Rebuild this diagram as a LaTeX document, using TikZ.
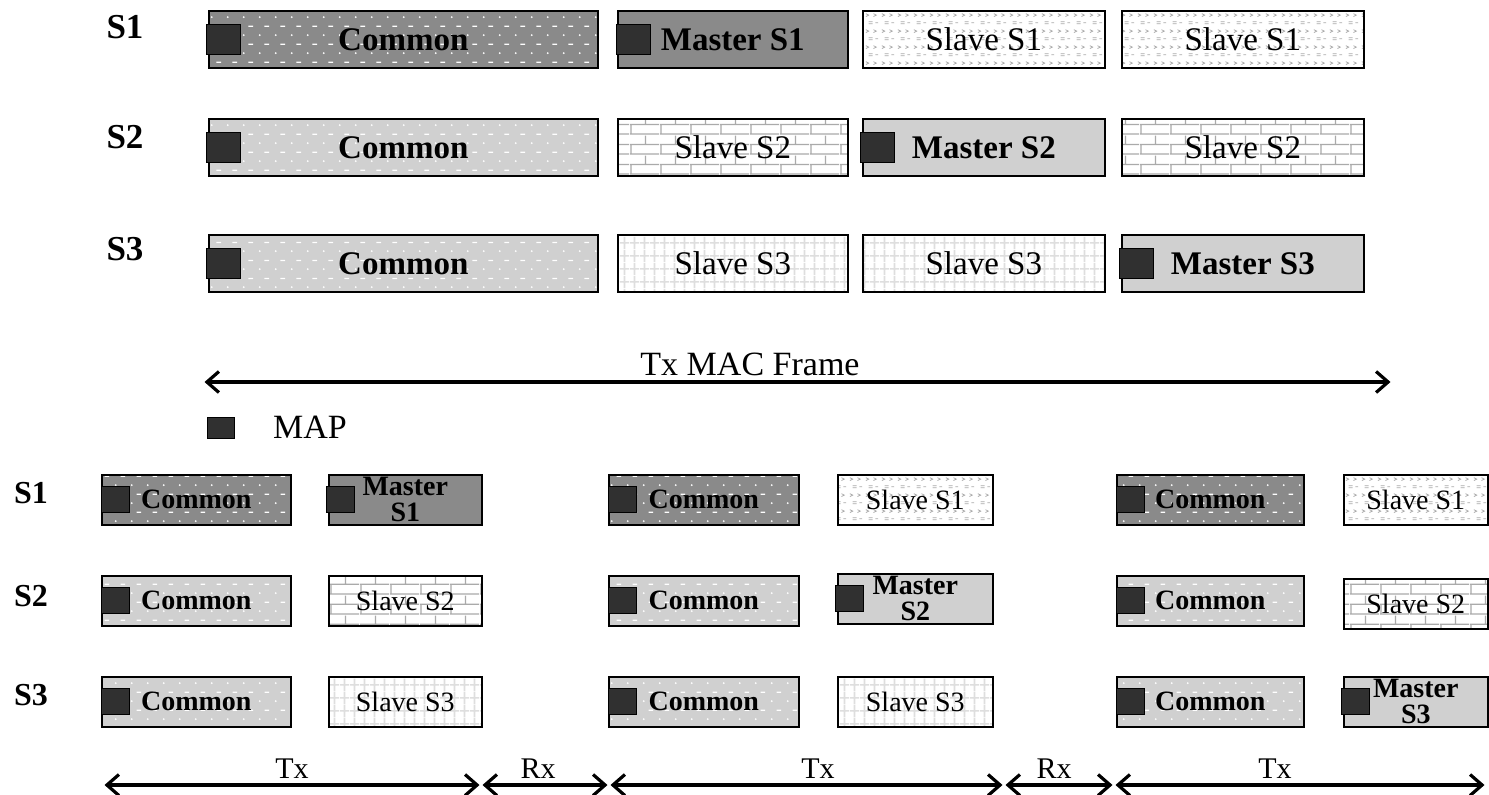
\documentclass[tikz,border=0pt]{standalone}
\usepackage{fontspec}
\setmainfont{Liberation Serif}
\usetikzlibrary{arrows.meta,patterns}

\definecolor{dkfill}{RGB}{138,138,138}
\definecolor{ltfill}{RGB}{208,208,208}
\definecolor{mapfill}{RGB}{48,48,48}
\definecolor{patline}{RGB}{170,170,170}
\definecolor{gridline}{RGB}{222,222,222}

% dotted fill of the Common slots
\pgfdeclarepatternformonly{commondots}{\pgfqpoint{0pt}{0pt}}{\pgfqpoint{16pt}{18pt}}{\pgfqpoint{16pt}{18pt}}{
  \pgfpathcircle{\pgfqpoint{4pt}{4pt}}{1.1pt}
  \pgfpathrectangle{\pgfqpoint{9pt}{12.5pt}}{\pgfqpoint{5pt}{1.3pt}}
  \pgfusepath{fill}
}
% small marks of the Slave S1 slots
\pgfdeclarepatternformonly{slavemarks}{\pgfqpoint{0pt}{0pt}}{\pgfqpoint{16pt}{16pt}}{\pgfqpoint{16pt}{16pt}}{
  \pgfsetlinewidth{0.8pt}
  \pgfpathmoveto{\pgfqpoint{2pt}{14pt}}\pgfpathlineto{\pgfqpoint{5pt}{12.5pt}}\pgfpathlineto{\pgfqpoint{2pt}{11pt}}
  \pgfpathmoveto{\pgfqpoint{10pt}{14pt}}\pgfpathlineto{\pgfqpoint{13pt}{12.5pt}}\pgfpathlineto{\pgfqpoint{10pt}{11pt}}
  \pgfpathmoveto{\pgfqpoint{5pt}{5.5pt}}\pgfpathlineto{\pgfqpoint{9pt}{5.5pt}}
  \pgfpathmoveto{\pgfqpoint{5pt}{3.5pt}}\pgfpathlineto{\pgfqpoint{9pt}{3.5pt}}
  \pgfpathmoveto{\pgfqpoint{12pt}{4.5pt}}\pgfpathlineto{\pgfqpoint{15pt}{4.5pt}}
  \pgfusepath{stroke}
}
% bricks of the Slave S2 slots
\pgfdeclarepatternformonly{slavebricks}{\pgfqpoint{0pt}{0pt}}{\pgfqpoint{30pt}{20pt}}{\pgfqpoint{30pt}{20pt}}{
  \pgfsetlinewidth{1.3pt}
  \pgfpathmoveto{\pgfqpoint{0pt}{1pt}}\pgfpathlineto{\pgfqpoint{30pt}{1pt}}
  \pgfpathmoveto{\pgfqpoint{0pt}{11pt}}\pgfpathlineto{\pgfqpoint{30pt}{11pt}}
  \pgfpathmoveto{\pgfqpoint{1pt}{1pt}}\pgfpathlineto{\pgfqpoint{1pt}{11pt}}
  \pgfpathmoveto{\pgfqpoint{16pt}{11pt}}\pgfpathlineto{\pgfqpoint{16pt}{20pt}}
  \pgfusepath{stroke}
}
% grid of the Slave S3 slots
\pgfdeclarepatternformonly{slavegrid}{\pgfqpoint{0pt}{0pt}}{\pgfqpoint{10pt}{13pt}}{\pgfqpoint{10pt}{13pt}}{
  \pgfsetlinewidth{1.8pt}
  \pgfpathmoveto{\pgfqpoint{5pt}{0pt}}\pgfpathlineto{\pgfqpoint{5pt}{13pt}}
  \pgfpathmoveto{\pgfqpoint{0pt}{6.5pt}}\pgfpathlineto{\pgfqpoint{10pt}{6.5pt}}
  \pgfusepath{stroke}
}

\tikzset{
  slot/.style={draw=black, line width=1.6pt, anchor=north west, inner sep=0pt, align=center},
  topslot/.style={slot, minimum height=57pt},
  lowslot/.style={slot, minimum height=50pt},
  bigbold/.style={font=\bfseries\fontsize{33}{36}\selectfont},
  bigreg/.style={font=\fontsize{33}{36}\selectfont},
  smallbold/.style={font=\bfseries\fontsize{28}{26}\selectfont},
  smallreg/.style={font=\fontsize{28}{26}\selectfont},
  dkcommon/.style={preaction={fill=dkfill}, preaction={pattern=commondots, pattern color=white}},
  ltcommon/.style={preaction={fill=ltfill}, preaction={pattern=commondots, pattern color=white}},
  dkmaster/.style={fill=dkfill},
  ltmaster/.style={fill=ltfill},
  slaveone/.style={preaction={fill=white}, preaction={pattern=slavemarks, pattern color=patline}},
  slavetwo/.style={preaction={fill=white}, preaction={pattern=slavebricks, pattern color=patline}},
  slavethree/.style={preaction={fill=white}, preaction={pattern=slavegrid, pattern color=gridline}},
  mapsq/.style={draw=black, line width=1.3pt, fill=mapfill, inner sep=0pt, anchor=west},
  topsq/.style={mapsq, minimum width=34pt, minimum height=30pt},
  lowsq/.style={mapsq, minimum width=28pt, minimum height=26pt},
  rowlab/.style={font=\bfseries\fontsize{35}{36}\selectfont},
  lowlab/.style={font=\bfseries\fontsize{32}{34}\selectfont},
  span/.style={line width=3.2pt, {Straight Barb[length=12pt,width=21pt,line width=3.2pt]}-{Straight Barb[length=12pt,width=21pt,line width=3.2pt]}, shorten <=1.5pt, shorten >=1.5pt}
}

\begin{document}
\begin{tikzpicture}[x=1pt,y=1pt,yscale=-1,xscale=1]
\useasboundingbox (0,0) rectangle (1489,795);

%Row S1 (one Tx MAC frame)
\node[rowlab] (ls1) at (125,27) {S1};
\node[topslot, bigbold, dkcommon, minimum width=389pt] (c1) at (208,10) {Common};
\node[topslot, bigbold, dkmaster, minimum width=230pt] (m1) at (617,10) {Master S1};
\node[topslot, bigreg, slaveone, minimum width=242pt] (v1a) at (862,10) {Slave S1};
\node[topslot, bigreg, slaveone, minimum width=242pt] (v1b) at (1121,10) {Slave S1};
\node[topsq] (qc1) at ([xshift=-2pt]c1.west) {};
\node[topsq] (qm1) at ([xshift=-1pt]m1.west) {};

%Row S2
\node[rowlab] (ls2) at (125,137) {S2};
\node[topslot, bigbold, ltcommon, minimum width=389pt] (c2) at (208,118) {Common};
\node[topslot, bigreg, slavetwo, minimum width=230pt] (v2a) at (617,118) {Slave S2};
\node[topslot, bigbold, ltmaster, minimum width=242pt] (m2) at (862,118) {Master S2};
\node[topslot, bigreg, slavetwo, minimum width=242pt] (v2b) at (1121,118) {Slave S2};
\node[topsq] (qc2) at ([xshift=-2pt]c2.west) {};
\node[topsq] (qm2) at ([xshift=-2pt]m2.west) {};

%Row S3
\node[rowlab] (ls3) at (125,249) {S3};
\node[topslot, bigbold, ltcommon, minimum width=389pt] (c3) at (208,234) {Common};
\node[topslot, bigreg, slavethree, minimum width=230pt] (v3a) at (617,234) {Slave S3};
\node[topslot, bigreg, slavethree, minimum width=242pt] (v3b) at (862,234) {Slave S3};
\node[topslot, bigbold, ltmaster, minimum width=242pt] (m3) at (1121,234) {Master S3};
\node[topsq] (qc3) at ([xshift=-2pt]c3.west) {};
\node[topsq] (qm3) at ([xshift=-2pt]m3.west) {};

%Frame span
\coordinate (fl) at (203,382);
\coordinate (fr) at (1392,382);
\draw[span] (fl) -- (fr);
\node[font=\fontsize{34}{36}\selectfont] (ftx) at (750,364) {Tx MAC Frame};

%Legend
\node[mapsq, anchor=north west, minimum width=27pt, minimum height=21pt] (legsq) at (207,417) {};
\node[font=\fontsize{34}{36}\selectfont] (legtx) at (310,427) {MAP};

%Lower rows (Tx / Rx periods)
\node[lowlab] (bs1) at (31,493) {S1};
\node[lowlab] (bs2) at (31,596) {S2};
\node[lowlab] (bs3) at (31,695) {S3};

% first Tx period
\node[lowslot, smallbold, dkcommon, minimum width=189pt] (c11) at (101,474) {Common};
\node[lowslot, smallbold, dkmaster, minimum width=153pt] (m11) at (328,474) {Master\\S1};
\node[lowslot, smallbold, ltcommon, minimum width=189pt] (c21) at (101,575) {Common};
\node[lowslot, smallreg, slavetwo, minimum width=153pt] (v21) at (328,575) {Slave S2};
\node[lowslot, smallbold, ltcommon, minimum width=189pt] (c31) at (101,676) {Common};
\node[lowslot, smallreg, slavethree, minimum width=153pt] (v31) at (328,676) {Slave S3};
\node[lowsq] (q11) at (c11.west) {};
\node[lowsq] (q12) at ([xshift=-2pt]m11.west) {};
\node[lowsq] (q21) at (c21.west) {};
\node[lowsq] (q31) at (c31.west) {};

% second Tx period
\node[lowslot, smallbold, dkcommon, minimum width=190pt] (c12) at (608,474) {Common};
\node[lowslot, smallreg, slaveone, minimum width=155pt] (v12) at (837,474) {Slave S1};
\node[lowslot, smallbold, ltcommon, minimum width=190pt] (c22) at (608,575) {Common};
\node[lowslot, smallbold, ltmaster, minimum width=155pt] (m22) at (837,573) {Master\\S2};
\node[lowslot, smallbold, ltcommon, minimum width=190pt] (c32) at (608,676) {Common};
\node[lowslot, smallreg, slavethree, minimum width=155pt] (v32) at (837,676) {Slave S3};
\node[lowsq] (q13) at (c12.west) {};
\node[lowsq] (q23) at (c22.west) {};
\node[lowsq] (q24) at ([xshift=-2pt]m22.west) {};
\node[lowsq] (q33) at (c32.west) {};

% third Tx period
\node[lowslot, smallbold, dkcommon, minimum width=187pt] (c13) at (1116,474) {Common};
\node[lowslot, smallreg, slaveone, minimum width=144pt] (v13) at (1343,474) {Slave S1};
\node[lowslot, smallbold, ltcommon, minimum width=187pt] (c23) at (1116,575) {Common};
\node[lowslot, smallreg, slavetwo, minimum width=144pt] (v23) at (1343,578) {Slave S2};
\node[lowslot, smallbold, ltcommon, minimum width=187pt] (c33) at (1116,676) {Common};
\node[lowslot, smallbold, ltmaster, minimum width=144pt] (m33) at (1343,676) {Master\\S3};
\node[lowsq] (q15) at (c13.west) {};
\node[lowsq] (q25) at (c23.west) {};
\node[lowsq] (q35) at (c33.west) {};
\node[lowsq] (q36) at ([xshift=-2pt]m33.west) {};

%Tx / Rx spans
\coordinate (b0) at (103,785);
\coordinate (b1) at (481,785);
\coordinate (b2) at (609,785);
\coordinate (b3) at (1004,785);
\coordinate (b4) at (1114,785);
\coordinate (b5) at (1486,785);
\draw[span] (b0) -- (b1);
\draw[span] (b1) -- (b2);
\draw[span] (b2) -- (b3);
\draw[span] (b3) -- (b4);
\draw[span] (b4) -- (b5);

% Text Node
\node[font=\fontsize{30}{32}\selectfont] (t1) at (292,769) {Tx};
\node[font=\fontsize{30}{32}\selectfont] (r1) at (538,769) {Rx};
\node[font=\fontsize{30}{32}\selectfont] (t2) at (818,769) {Tx};
\node[font=\fontsize{30}{32}\selectfont] (r2) at (1054,769) {Rx};
\node[font=\fontsize{30}{32}\selectfont] (t3) at (1275,769) {Tx};

\end{tikzpicture}
\end{document}
